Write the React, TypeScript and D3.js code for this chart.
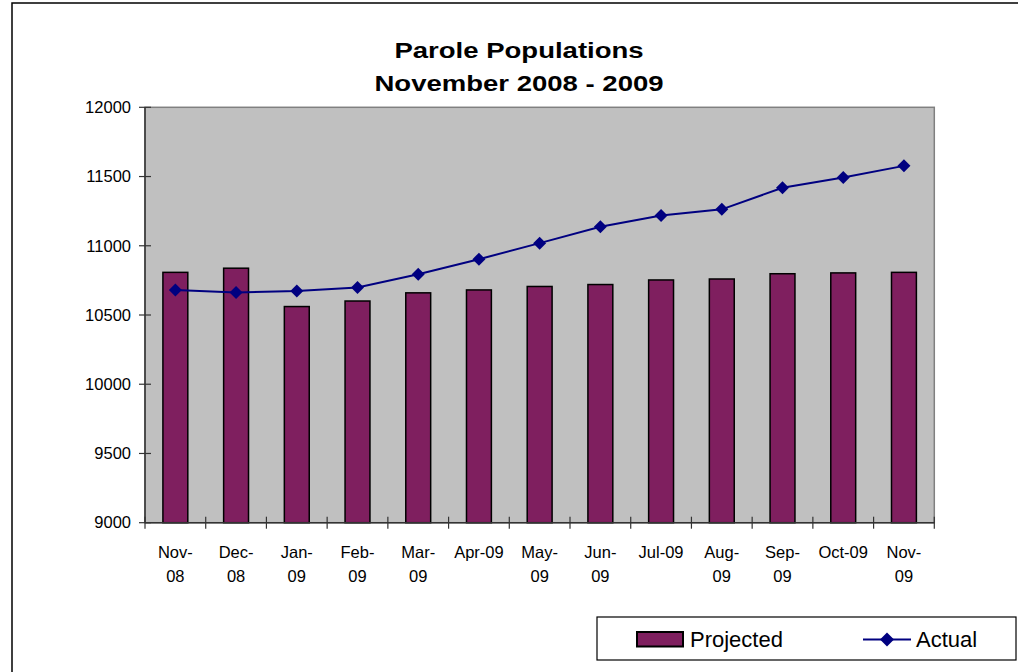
import React from 'react';
import * as d3 from 'd3';

// Parole populations, monthly, Nov 2008 - Nov 2009
const months = ['Nov-08', 'Dec-08', 'Jan-09', 'Feb-09', 'Mar-09', 'Apr-09', 'May-09',
  'Jun-09', 'Jul-09', 'Aug-09', 'Sep-09', 'Oct-09', 'Nov-09'];
// how Excel wrapped each category label
const monthLabels: string[][] = [
  ['Nov-', '08'], ['Dec-', '08'], ['Jan-', '09'], ['Feb-', '09'], ['Mar-', '09'], ['Apr-09'],
  ['May-', '09'], ['Jun-', '09'], ['Jul-09'], ['Aug-', '09'], ['Sep-', '09'], ['Oct-09'], ['Nov-', '09'],
];
const projected = [10808, 10838, 10561, 10601, 10660, 10681, 10706, 10720, 10753, 10760, 10798, 10804, 10808];
const actual = [10681, 10663, 10674, 10698, 10795, 10903, 11019, 11137, 11219, 11263, 11419, 11493, 11577];
const yTicks = [9000, 9500, 10000, 10500, 11000, 11500, 12000];

const W = 1018;
const H = 672;
const plot = { left: 145, right: 934.3, top: 107.3, bottom: 522.7 };
const FONT = '"Liberation Sans", Arial, sans-serif';

const BAR_FILL = '#7f1f5f';
const LINE_COLOR = '#000080';

const diamond = (cx: number, cy: number, r: number) =>
  `M${cx},${cy - r}L${cx + r},${cy}L${cx},${cy + r}L${cx - r},${cy}Z`;

export default function App() {
  const x = d3.scaleBand<string>().domain(months).range([plot.left, plot.right]).padding(0);
  const y = d3.scaleLinear().domain([9000, 12000]).range([plot.bottom, plot.top]);
  const bw = x.bandwidth() * 0.41;
  const cx = (m: string) => (x(m) ?? 0) + x.bandwidth() / 2;

  const line = d3.line<number>()
    .x((_, i) => cx(months[i]))
    .y(d => y(d));

  const titleX = 519;

  return (
    <svg width={W} height={H} style={{ position: 'absolute', left: 0, top: 0, display: 'block', background: '#fff' }}
      fontFamily={FONT}>
      {/* outer chart border */}
      <rect x={12} y={3} width={W + 20} height={H + 20} fill="#fff" stroke="#000" strokeWidth={1.5} />

      {/* title (horizontally stretched like the source export) */}
      <g transform={`translate(${titleX},57.5) scale(1.28,1)`}>
        <text textAnchor="middle" fontSize={21.5} fontWeight="bold">Parole Populations</text>
      </g>
      <g transform={`translate(${titleX},91) scale(1.28,1)`}>
        <text textAnchor="middle" fontSize={21.5} fontWeight="bold">November 2008 - 2009</text>
      </g>

      {/* plot area */}
      <rect x={plot.left} y={plot.top} width={plot.right - plot.left} height={plot.bottom - plot.top}
        fill="#c0c0c0" stroke="#808080" strokeWidth={1.5} />

      {/* bars */}
      {projected.map((v, i) => (
        <rect key={months[i]} x={cx(months[i]) - bw / 2} y={y(v)} width={bw} height={y(9000) - y(v)}
          fill={BAR_FILL} stroke="#000" strokeWidth={1.5} />
      ))}

      {/* actual line */}
      <path d={line(actual) ?? ''} fill="none" stroke={LINE_COLOR} strokeWidth={2} />
      {actual.map((v, i) => (
        <path key={months[i]} d={diamond(cx(months[i]), y(v), 6.5)} fill={LINE_COLOR} />
      ))}

      {/* y axis */}
      <line x1={plot.left} x2={plot.left} y1={plot.top} y2={plot.bottom} stroke="#333" strokeWidth={1.5} />
      {yTicks.map(t => (
        <g key={t}>
          <line x1={plot.left - 6} x2={plot.left + 6} y1={y(t)} y2={y(t)} stroke="#333" strokeWidth={1.2} />
          <text x={131} y={y(t)} dy="0.35em" textAnchor="end" fontSize={16.5}>{t}</text>
        </g>
      ))}

      {/* x axis */}
      <line x1={plot.left} x2={plot.right} y1={plot.bottom} y2={plot.bottom} stroke="#333" strokeWidth={1.5} />
      {months.map(m => (
        <line key={m} x1={x(m)} x2={x(m)} y1={plot.bottom - 6} y2={plot.bottom + 6} stroke="#333" strokeWidth={1.2} />
      ))}
      <line x1={plot.right} x2={plot.right} y1={plot.bottom - 6} y2={plot.bottom + 6} stroke="#333" strokeWidth={1.2} />
      {months.map((m, i) => (
        <text key={m} x={cx(m)} y={558} textAnchor="middle" fontSize={16.5}>
          {monthLabels[i].map((ln, j) => (
            <tspan key={j} x={cx(m)} dy={j === 0 ? 0 : 24}>{ln}</tspan>
          ))}
        </text>
      ))}

      {/* legend */}
      <rect x={597} y={617} width={419} height={43} fill="#fff" stroke="#000" strokeWidth={1.2} />
      <rect x={637} y={632} width={46} height={14.5} fill={BAR_FILL} stroke="#000" strokeWidth={2} />
      <text x={690} y={647} fontSize={22}>Projected</text>
      <line x1={863} x2={911} y1={639.5} y2={639.5} stroke={LINE_COLOR} strokeWidth={2} />
      <path d={diamond(887, 639.5, 7)} fill={LINE_COLOR} />
      <text x={916} y={647} fontSize={22}>Actual</text>
    </svg>
  );
}
